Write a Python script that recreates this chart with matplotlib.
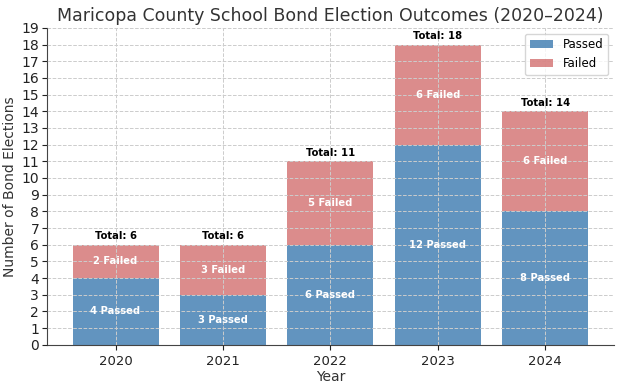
import matplotlib
matplotlib.use("Agg")
import matplotlib.pyplot as plt
import numpy as np

years = ["2020", "2021", "2022", "2023", "2024"]
passed = [4, 3, 6, 12, 8]
failed = [2, 3, 5, 6, 6]

fig, ax = plt.subplots(figsize=(6.24, 3.87), dpi=100)
fig.subplots_adjust(left=0.075, right=0.984, bottom=0.109, top=0.928)

x = np.arange(len(years))
ax.bar(x, passed, width=0.8, color="#4682B4", alpha=0.85, label="Passed", zorder=2)
ax.bar(x, failed, width=0.8, bottom=passed, color="#CD5C5C", alpha=0.7, label="Failed", zorder=2)

for i in range(len(years)):
    p, f = passed[i], failed[i]
    ax.text(x[i], p / 2, f"{p} Passed", ha="center", va="center", color="white",
            fontsize=7.2, fontweight="bold", zorder=4)
    ax.text(x[i], p + f / 2, f"{f} Failed", ha="center", va="center", color="white",
            fontsize=7.2, fontweight="bold", zorder=4)
    ax.text(x[i], p + f + 0.2, f"Total: {p + f}", ha="center", va="bottom", color="black",
            fontsize=7.2, fontweight="bold", zorder=4)

ax.set_xticks(x)
ax.set_xticklabels(years, fontsize=9.5)
ax.set_ylim(0, 19)
ax.set_yticks(range(0, 20))
ax.tick_params(axis="y", labelsize=10, pad=2)
ax.set_xlabel("Year", fontsize=10, color="#333333", labelpad=2)
ax.set_ylabel("Number of Bond Elections", fontsize=10, color="#333333", labelpad=3)
ax.set_title("Maricopa County School Bond Election Outcomes (2020\u20132024)", fontsize=12.5, color="#333333", pad=5)
ax.grid(True, linestyle="--", color="#cccccc", linewidth=0.7, zorder=3)
ax.set_axisbelow(False)
for s in ["top", "right"]:
    ax.spines[s].set_visible(False)
ax.spines["left"].set_color("#444444")
ax.spines["bottom"].set_color("#444444")
ax.tick_params(colors="#222222")
ax.legend(loc="upper right", fontsize=8.5)

fig.savefig("out.png", dpi=100)
